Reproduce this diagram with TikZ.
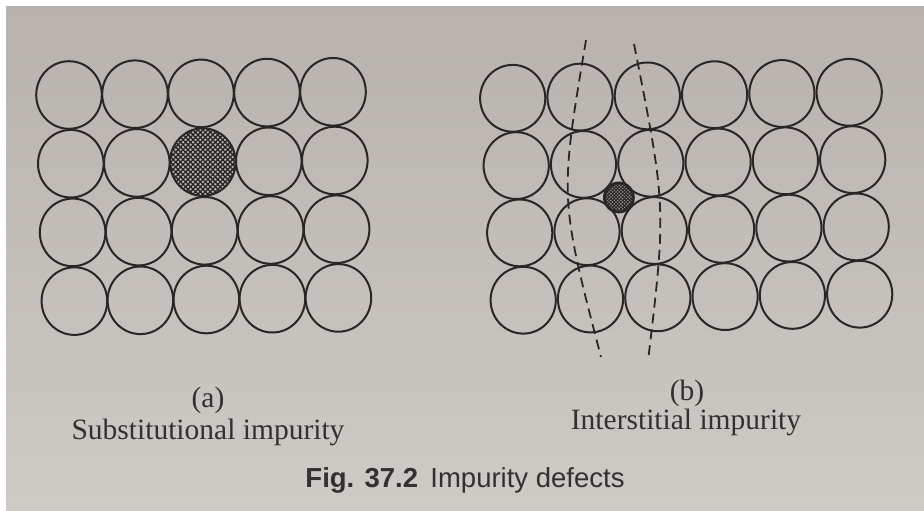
\documentclass[tikz,border=0pt]{standalone}
\usepackage{fontspec}
\setmainfont{Liberation Serif}
\setsansfont{Liberation Sans}
\usetikzlibrary{patterns.meta,calc}

\definecolor{papertop}{HTML}{B7B2AE}
\definecolor{paperbot}{HTML}{CECAC6}
\definecolor{ink}{HTML}{2A2624}
\definecolor{inktext}{HTML}{35302E}

\tikzset{
	atom/.style={draw=ink, line width=2pt},
	subatom/.style={atom, pattern={Hatch[angle=45,distance=3.5pt,line width=1.4pt]}, pattern color=ink},
	intatom/.style={draw=ink, line width=2.8pt, pattern={Hatch[angle=45,distance=2.4pt,line width=1.2pt]}, pattern color=ink},
	slipline/.style={draw=ink, line width=1.8pt, dash pattern=on 10pt off 6pt},
	lbl/.style={text=inktext, font=\fontsize{29.5}{32}\selectfont, inner sep=0pt},
	figcap/.style={text=inktext, font=\sffamily\fontsize{27.5}{30}\selectfont, inner sep=0pt}
}

\begin{document}
\begin{tikzpicture}[x=1pt, y=-1pt]

		% page

		\useasboundingbox (0,0) rectangle (924,511);

		\fill[white] (0,0) rectangle (924,511);

		\shade[top color=papertop, bottom color=paperbot] (6,7) rectangle (924,511);

		% define point

		\foreach \i in {0,...,4}
			\foreach \j in {0,...,3}
				\coordinate (s-\i-\j) at ({69+66*\i+1.8*\j}, {95-0.8*\i+68.7*\j});

		\foreach \i in {0,...,5}
			\foreach \j in {0,...,3}
				\coordinate (t-\i-\j) at ({512.7+67.3*\i+3.5*\j}, {98.3-1.2*\i+67.3*\j});

		\coordinate (imp) at ($(t-1-1)!0.5!(t-2-2)$);

		\coordinate (d1a) at (586,40);
		\coordinate (d1b) at (601,357);
		\coordinate (d2a) at (634,44);
		\coordinate (d2b) at (648,361);

		% substitutional

		\foreach \i in {0,...,4}
			\foreach \j in {0,...,3}
				{\ifnum\i\j=21 \else \draw[atom] (s-\i-\j) circle[x radius=32.8pt, y radius=33.8pt]; \fi}

		\draw[subatom] (s-2-1) circle[x radius=32.8pt, y radius=33.8pt];

		% interstitial

		\foreach \i in {0,...,5}
			\foreach \j in {0,...,3}
				\draw[atom] (t-\i-\j) circle[x radius=32.6pt, y radius=33.4pt];

		\draw[intatom] (imp) circle[radius=14.5pt];

		\draw[slipline] (d1a) .. controls (559.5,197.8) .. (d1b);
		\draw[slipline] (d2a) .. controls (666.3,207.2) .. (d2b);

		% labels

		\node[lbl] (a-tag)  at (208,400) {(a)};
		\node[lbl] (a-name) at (208,432) {Substitutional impurity};
		\node[lbl] (b-tag)  at (687,393) {(b)};
		\node[lbl] (b-name) at (686,422) {Interstitial impurity};

		\node[figcap] (fig) at (465,480) {\textbf{Fig. 37.2}\hspace{0.45em}Impurity defects};

	\end{tikzpicture}
\end{document}
